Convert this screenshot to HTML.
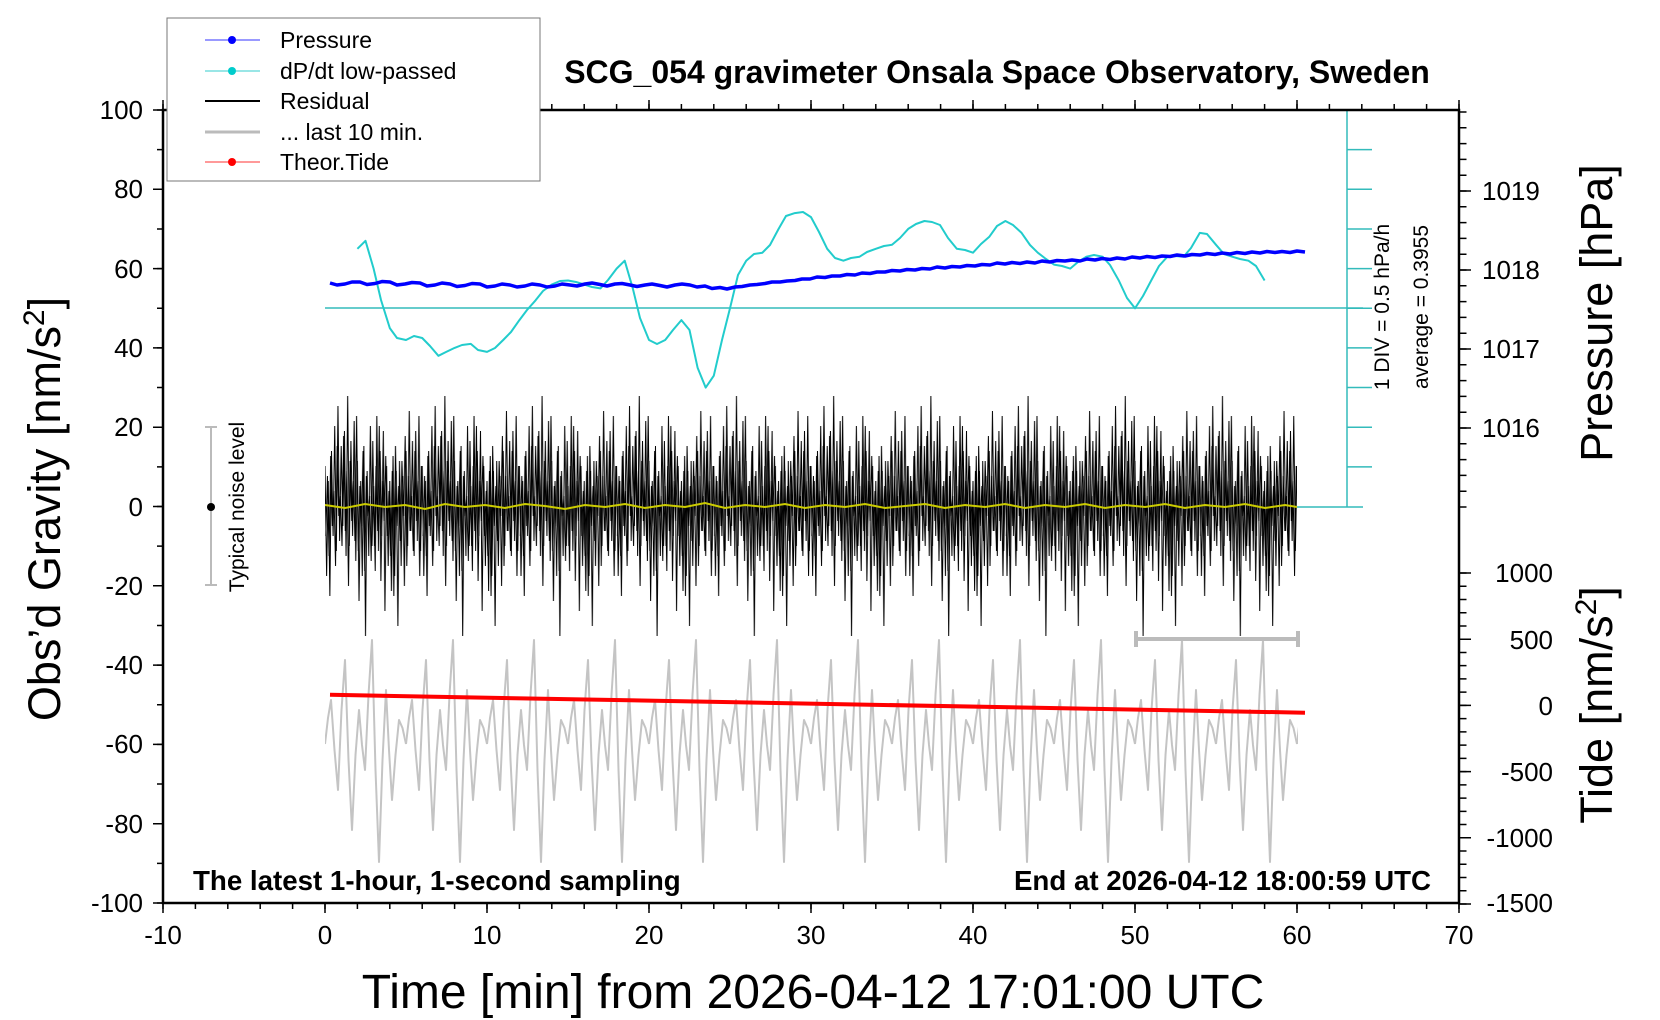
<!DOCTYPE html>
<html><head><meta charset="utf-8"><style>
body{margin:0;background:#fff}
svg{display:block;font-family:"Liberation Sans",sans-serif}
</style></head><body>
<svg width="1660" height="1020" viewBox="0 0 1660 1020" xmlns="http://www.w3.org/2000/svg">
<defs>
<pattern id="res" patternUnits="userSpaceOnUse" x="325" y="356" width="97.2" height="300">
<path fill="none" stroke="#000" stroke-width="1" d="M0 110L1.62 220L3.24 125L4.86 240L6.48 95L8.1 180L9.72 70L11.34 195L12.96 50L14.58 185L16.2 90L17.82 170L19.44 75L21.06 200L22.68 40L24.3 190L25.92 85L27.54 180L29.16 65L30.78 205L32.4 105L34.02 245L35.64 125L37.26 220L38.88 90L40.5 280L42.12 115L43.74 200L45.36 70L46.98 190L48.6 130L50.22 215L51.84 60L53.46 195L55.08 95L56.7 180L58.32 75L59.94 255L61.56 110L63.18 210L64.8 125L66.42 235L68.04 100L69.66 220L71.28 115L72.9 270L74.52 105L76.14 210L77.76 120L79.38 230L81 95L82.62 190L84.24 55L85.86 175L87.48 85L89.1 200L90.72 75L92.34 185L93.96 60L95.58 195L97.2 110"/>
<path fill="none" stroke="#000" stroke-width="1" d="M0.81 180L2.43 120L4.05 200L5.67 100L7.29 170L8.91 135L10.53 210L12.15 90L13.77 160L15.39 140L17.01 190L18.63 80L20.25 175L21.87 115L23.49 230L25.11 105L26.73 165L28.35 125L29.97 185L31.59 60L33.21 195L34.83 130L36.45 170L38.07 95L39.69 215L41.31 120L42.93 160L44.55 140L46.17 205L47.79 85L49.41 190L51.03 110L52.65 175L54.27 70L55.89 225L57.51 125L59.13 165L60.75 100L62.37 180L63.99 135L65.61 200L67.23 115L68.85 240L70.47 90L72.09 170L73.71 130L75.33 185L76.95 105L78.57 160L80.19 80L81.81 210L83.43 120L85.05 175L86.67 140L88.29 195L89.91 95L91.53 165L93.15 125L94.77 220L96.39 110"/>
</pattern>
<pattern id="tide" patternUnits="userSpaceOnUse" x="325" y="600" width="81" height="320">
<path fill="none" stroke="#c4c4c4" stroke-width="2" stroke-linejoin="round" d="M0 144L3 118L6 100L9.5 150L13 190L16.5 110L20 60L23.5 160L27 230L30.5 155L34 110L37 145L40 170L43.5 95L47 40L50.5 170L54 262L57.5 160L61 90L64 150L67 200L70.5 155L74 120L77.5 128L81 144"/>
</pattern>
</defs>
<rect width="1660" height="1020" fill="#fff"/>

<g stroke="#3bb" stroke-width="1.5" fill="none">
<line x1="1347" y1="110" x2="1347" y2="507"/>
<path d="M1295 110H1363M1347 149.65H1372M1347 189.3H1372M1347 228.95H1372M1347 268.6H1372M1347 308.25H1372M1347 347.9H1372M1347 387.55H1372M1347 427.2H1372M1347 466.85H1372M1295 507H1363"/>
<line x1="325" y1="308" x2="1363" y2="308"/>
</g>

<rect x="325" y="590" width="973" height="315" fill="url(#tide)"/>
<rect x="325" y="356" width="972" height="300" fill="url(#res)"/>
<path fill="none" stroke="#cc0" stroke-width="2" d="M325 505L345 508L365 504L385 507L405 505L425 509L445 504L465 507L485 505L505 508L525 504L545 506L565 509L585 505L605 507L625 504L645 508L665 505L685 507L705 503L725 508L745 505L765 507L785 504L805 508L825 505L845 507L865 504L885 508L905 506L925 504L945 508L965 505L985 507L1005 504L1025 508L1045 505L1065 507L1085 504L1105 508L1125 505L1145 507L1165 504L1185 508L1205 505L1225 507L1245 504L1265 508L1285 505L1297 507"/>
<line x1="330" y1="694.8" x2="1305" y2="712.7" stroke="#f00" stroke-width="4"/>
<polyline fill="none" stroke="#2cc" stroke-width="2" stroke-linejoin="round" points="357.4,248.8 365.5,240.8 373.6,268.6 381,300 389.8,328.1 397,338 406,340 414,336 422.2,338 430,346 438.4,355.8 446,352 454.6,347.9 462,345 470.8,343.9 478,350 487,351.9 495,348 503.2,340 511,332 519.4,320.1 527,310 535.6,300.3 543,291 551.8,284.5 560,281 568,280.5 576,282 584.2,284.5 592,287 600.4,288.4 608,280 616.6,268.6 624.7,260.7 632.8,288.4 640,318 649,340 657,344 665.2,340 673,330 681.4,320.1 689.5,330 697.6,367.7 705.7,387.6 713.8,375.7 722,340 730,308.3 738,275 746.2,260.7 754,254 762.4,252.7 770,245 778.6,228.9 786,216 794.8,213.1 803,212 811,217.1 819,232 827.2,248.8 835,258 843.4,260.7 851,258 859.6,256.7 867,252 875.8,248.8 884,246 892,244.8 900,238 908.2,228.9 916,224 924.4,221 932,222 940,225 948,238 956.8,248.8 965,250 973,252.7 981,244 989.2,236.9 997,226 1005.4,221 1013,225 1021.6,232.9 1030,245 1037.8,252.7 1046,259 1054,264.6 1062,266 1070.2,268.6 1078,262 1086.4,256.7 1094,255 1102.6,256.7 1110,265 1118.8,280.5 1127,298 1135,308.3 1143,296 1151.2,280.5 1159,266 1167.4,256.7 1175,256 1183.6,256.7 1191,248 1199.8,232.9 1207,234 1216,244.8 1224,254 1232.2,256.7 1240,259 1248.4,260.7 1256,266 1264.6,280.5"/>
<polyline fill="none" stroke="#00f" stroke-width="3.5" stroke-linejoin="round" points="330,283 337,285 345,284 352,282 360,282 367,284.5 375,283.5 382,281.5 390,282 397,285 405,284 412,282.5 420,283 427,286 435,285 442,283 450,284 457,286.5 465,285.5 472,283.5 480,284 487,287 495,286 502,284 510,285 517,287 525,286 532,284 540,285 547,287 555,286 562,284 570,285 577,286 585,284 592,283 600,284.5 607,286 615,284 622,283.5 630,285 637,286.5 645,285 652,284 660,285.5 667,287 675,285 682,284 690,285 697,287 705,286 712,288.5 720,287.5 727,289 735,287 742,286.5 750,285 757,284.5 765,283.5 772,282 780,282 787,281 795,280.5 802,279 810,279 817,277 825,277.5 832,276 840,276 847,274.5 855,275 862,273 870,273.5 877,272 885,272 892,270.5 900,271 907,269.5 915,270 922,268.5 930,269 937,267 945,268 952,266.5 960,267 967,265.5 975,266 982,264.5 990,265 997,263 1005,264 1012,262.5 1020,263.5 1027,262 1035,263 1042,261 1050,262 1057,260.5 1065,261 1072,260 1080,261 1087,259 1095,260 1102,258.5 1110,259.5 1117,258 1125,259 1132,257 1140,258 1147,256.5 1155,257.5 1162,256 1170,256.5 1177,255 1185,256 1192,254.5 1200,255 1207,253.5 1215,254.5 1222,253 1230,254 1237,252.5 1245,253.5 1252,252 1260,253 1267,251.5 1275,252.5 1282,251.5 1290,252.5 1297,251 1305,252"/>

<g stroke="#000" fill="none">
<rect x="163" y="110" width="1296" height="793" stroke-width="2.5"/>
<line x1="162.25" y1="906" x2="1461" y2="906" stroke-width="6" stroke-dasharray="1.5 30.9"/>
<line x1="162.25" y1="908" x2="1461" y2="908" stroke-width="10" stroke-dasharray="1.5 160.5"/>
<line x1="162.25" y1="107" x2="1461" y2="107" stroke-width="6" stroke-dasharray="1.5 30.9"/>
<line x1="162.25" y1="105" x2="1461" y2="105" stroke-width="10" stroke-dasharray="1.5 160.5"/>
<line x1="160" y1="109.25" x2="160" y2="905" stroke-width="6" stroke-dasharray="1.5 38.15"/>
<line x1="158" y1="109.25" x2="158" y2="905" stroke-width="10" stroke-dasharray="1.5 77.8"/>
<line x1="1463" y1="111.25" x2="1463" y2="510" stroke-width="7" stroke-dasharray="1.5 14.3"/>
<line x1="1465" y1="190.25" x2="1465" y2="430" stroke-width="12" stroke-dasharray="1.5 77.5"/>
<line x1="1463" y1="572.25" x2="1463" y2="905" stroke-width="7" stroke-dasharray="1.5 11.74"/>
<line x1="1465" y1="572.25" x2="1465" y2="905" stroke-width="12" stroke-dasharray="1.5 64.7"/>
</g>

<g font-size="26" fill="#000" text-anchor="end">
<text x="143" y="119">100</text><text x="143" y="198">80</text><text x="143" y="278">60</text><text x="143" y="357">40</text><text x="143" y="436">20</text><text x="143" y="516">0</text><text x="143" y="595">-20</text><text x="143" y="674">-40</text><text x="143" y="753">-60</text><text x="143" y="833">-80</text><text x="143" y="912">-100</text>
<text x="1553" y="582">1000</text><text x="1553" y="649">500</text><text x="1553" y="715">0</text><text x="1553" y="781">-500</text><text x="1553" y="847">-1000</text><text x="1553" y="912">-1500</text>
</g>
<g font-size="26" fill="#000">
<text x="1482" y="200">1019</text><text x="1482" y="279">1018</text><text x="1482" y="358">1017</text><text x="1482" y="437">1016</text>
</g>
<g font-size="26" fill="#000" text-anchor="middle">
<text x="163" y="944">-10</text><text x="325" y="944">0</text><text x="487" y="944">10</text><text x="649" y="944">20</text><text x="811" y="944">30</text><text x="973" y="944">40</text><text x="1135" y="944">50</text><text x="1297" y="944">60</text><text x="1459" y="944">70</text>
</g>

<rect x="167" y="18" width="373" height="163" fill="#fff" stroke="#777" stroke-width="1"/>
<line x1="205" y1="40" x2="260" y2="40" stroke="#33f" stroke-width="1"/><circle cx="232" cy="40" r="4" fill="#00f"/>
<line x1="205" y1="71" x2="260" y2="71" stroke="#3cc" stroke-width="1"/><circle cx="232" cy="71" r="4" fill="#0cc"/>
<line x1="205" y1="101" x2="260" y2="101" stroke="#000" stroke-width="2"/>
<line x1="205" y1="132" x2="260" y2="132" stroke="#bbb" stroke-width="3"/>
<line x1="205" y1="162" x2="260" y2="162" stroke="#f33" stroke-width="1"/><circle cx="232" cy="162" r="4" fill="#f00"/>
<g font-size="23" fill="#000">
<text x="280" y="48">Pressure</text>
<text x="280" y="79">dP/dt low-passed</text>
<text x="280" y="109">Residual</text>
<text x="280" y="140">... last 10 min.</text>
<text x="280" y="170">Theor.Tide</text>
</g>
<text x="997" y="83" font-size="32" font-weight="bold" text-anchor="middle">SCG_054 gravimeter Onsala Space Observatory, Sweden</text>
<text x="193" y="890" font-size="27.7" font-weight="bold">The latest 1-hour, 1-second sampling</text>
<text x="1431" y="890" font-size="27.7" font-weight="bold" text-anchor="end">End at 2026-04-12 18:00:59 UTC</text>
<text x="813" y="1008" font-size="48" text-anchor="middle">Time [min] from 2026-04-12 17:01:00 UTC</text>
<text transform="translate(60,509) rotate(-90)" font-size="45" text-anchor="middle">Obs’d Gravity [nm/s<tspan dy="-16" font-size="30">2</tspan><tspan dy="16">]</tspan></text>
<text transform="translate(1612,313) rotate(-90)" font-size="45" text-anchor="middle">Pressure [hPa]</text>
<text transform="translate(1612,705) rotate(-90)" font-size="45" text-anchor="middle">Tide [nm/s<tspan dy="-16" font-size="30">2</tspan><tspan dy="16">]</tspan></text>
<text transform="translate(1389,307) rotate(-90)" font-size="21" text-anchor="middle">1 DIV = 0.5 hPa/h</text>
<text transform="translate(1428,307) rotate(-90)" font-size="21" text-anchor="middle">average = 0.3955</text>
<text transform="translate(244,507) rotate(-90)" font-size="21" text-anchor="middle">Typical noise level</text>
<g stroke="#bbb" stroke-width="2"><line x1="211" y1="427" x2="211" y2="585"/><line x1="205" y1="427" x2="217" y2="427"/><line x1="205" y1="585" x2="217" y2="585"/></g>
<circle cx="211" cy="507" r="4" fill="#000"/>
<g stroke="#bbb" stroke-width="4"><line x1="1136" y1="639" x2="1298" y2="639"/><line x1="1136" y1="631" x2="1136" y2="647"/><line x1="1298" y1="631" x2="1298" y2="647"/></g>
</svg>
</body></html>
